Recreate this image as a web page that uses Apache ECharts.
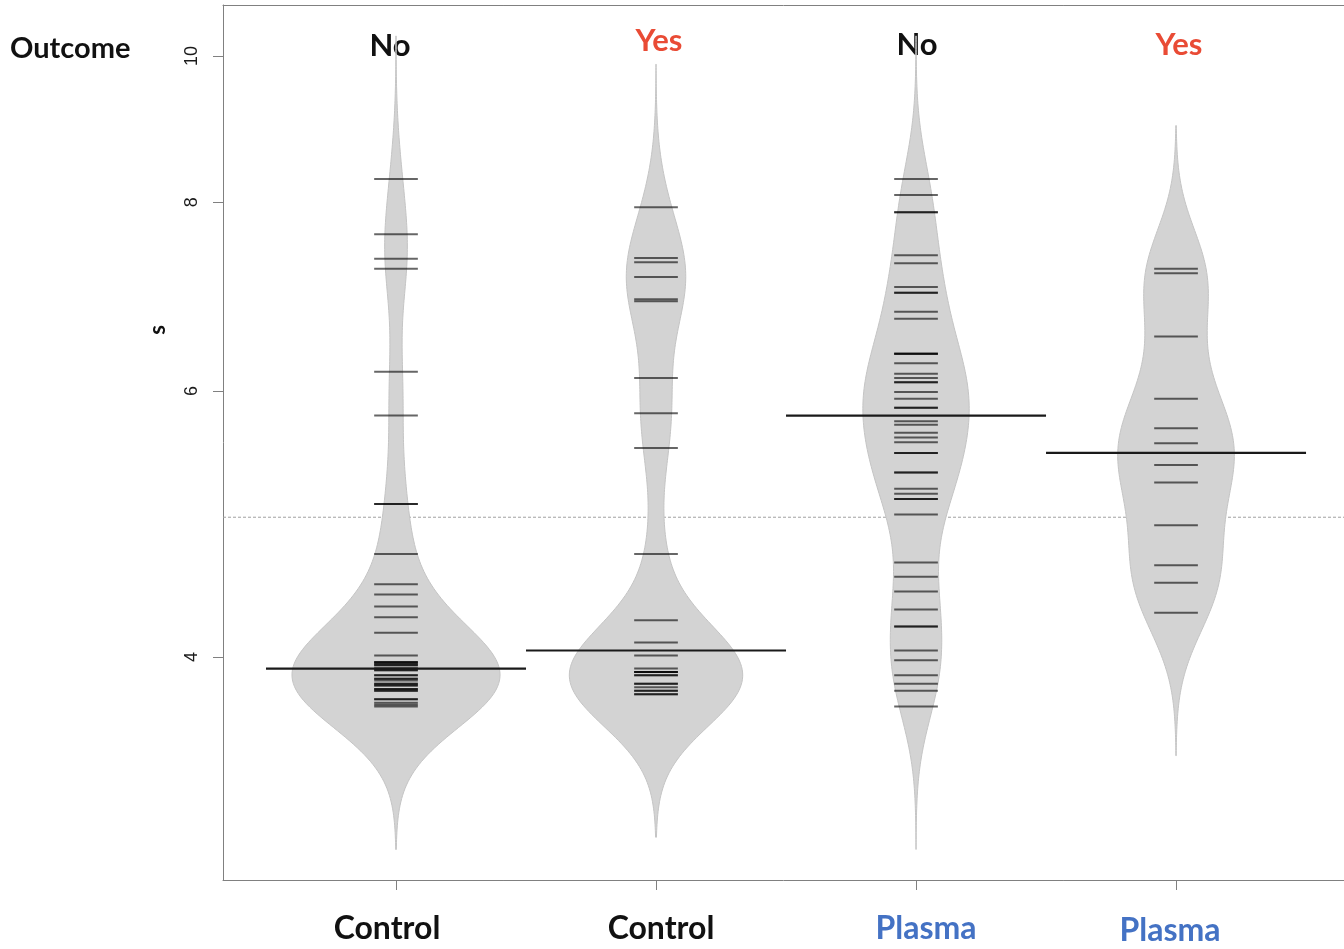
<!DOCTYPE html>
<html>
<head>
<meta charset="utf-8">
<script src="https://cdn.jsdelivr.net/npm/echarts@6/dist/echarts.min.js"></script>
<style>
  html, body { margin: 0; padding: 0; background: #fff; }
  #chart { width: 1344px; height: 949px; }
</style>
</head>
<body>
<div id="chart"></div>
<script>
// groups in plot order
var groups = ['Control', 'Control', 'Plasma', 'Plasma']
var outcomes = ['No', 'Yes', 'No', 'Yes']

var controlNo = [8.29, 7.62, 7.34, 7.23, 6.18, 5.78, 5.05, 5.05, 4.68, 4.47, 4.40, 4.32, 4.25, 4.15,
  4.01, 3.97, 3.97, 3.96, 3.96, 3.95, 3.95, 3.93, 3.93, 3.92, 3.92, 3.89, 3.89, 3.87, 3.87, 3.86,
  3.84, 3.84, 3.83, 3.83, 3.81, 3.81, 3.80, 3.80, 3.75, 3.75, 3.73, 3.72, 3.71]
var controlYes = [7.94, 7.35, 7.30, 7.14, 6.90, 6.88, 6.12, 5.80, 5.50, 4.68, 4.23, 4.09, 4.01, 3.93,
  3.91, 3.91, 3.91, 3.89, 3.89, 3.84, 3.84, 3.82, 3.80, 3.80, 3.78, 3.78]
var plasmaNo = [8.29, 8.09, 7.88, 7.88, 7.38, 7.29, 7.03, 6.97, 6.97, 6.77, 6.70, 6.35, 6.35, 6.35, 6.26,
  6.16, 6.12, 6.08, 6.08, 5.99, 5.93, 5.85, 5.85, 5.73, 5.70, 5.63, 5.59, 5.55, 5.46, 5.46, 5.30, 5.30,
  5.17, 5.13, 5.09, 5.09, 4.97, 4.62, 4.52, 4.42, 4.30, 4.19, 4.19, 4.04, 3.98, 3.89, 3.84, 3.80, 3.71]
var plasmaYes = [7.23, 7.18, 6.52, 5.93, 5.67, 5.54, 5.36, 5.22, 4.89, 4.60, 4.48, 4.28]

var groupMeans = [3.93, 4.04, 5.78, 5.46]
var overallMean = 4.95
var yTicks = [4, 6, 8, 10]

var values = [controlNo, controlYes, plasmaNo, plasmaYes]
var bw = 0.0727 // kernel bandwidth on the log scale, shared by all beans
var xMin = 0.3346
var xMax = 4.646

function density (pts) {
  var logs = pts.map(Math.log)
  var lo = Math.min.apply(null, logs) - 3 * bw
  var hi = Math.max.apply(null, logs) + 3 * bw
  var out = []
  for (var i = 0; i <= 240; i++) {
    var y = lo + (hi - lo) * i / 240
    var s = 0
    logs.forEach(function (l) {
      var z = (y - l) / bw
      s += Math.exp(-0.5 * z * z)
    })
    out.push([y, s / (logs.length * bw * Math.sqrt(2 * Math.PI))])
  }
  return out
}

var beans = values.map(density)
var maxD = 0
beans.forEach(function (b) {
  b.forEach(function (p) { if (p[1] > maxD) maxD = p[1] })
})

var stripeData = []
values.forEach(function (arr, g) {
  arr.forEach(function (v) { stripeData.push([g + 1, Math.log(v)]) })
})

function hLine (x0, x1, y, api, style) {
  var a = api.coord([x0, y])
  var b = api.coord([x1, y])
  return { type: 'line', shape: { x1: a[0], y1: a[1], x2: b[0], y2: b[1] }, style: style }
}

var labelFont = { fontSize: 32, fontWeight: 'bold', fontFamily: 'Lato' }

var myChart = echarts.init(document.getElementById('chart'))
var option = {
  animation: false,
  grid: {
    left: 223,
    top: 5,
    width: 1121,
    height: 875
  },
  xAxis: [{
    type: 'value',
    min: xMin,
    max: xMax,
    splitLine: { show: false },
    axisLine: { show: true, lineStyle: { color: '#808080' } },
    axisTick: { show: true, length: 10, customValues: [1, 2, 3, 4], lineStyle: { color: '#808080' } },
    axisLabel: {
      customValues: [1, 2, 3, 4],
      margin: 33,
      formatter: function (v) {
        return '{g' + v + '|' + groups[v - 1] + '}'
      },
      rich: {
        g1: Object.assign({ color: '#111', padding: [0, 18, 0, 0] }, labelFont),
        g2: Object.assign({ color: '#111', padding: [0, 0, 0, 10] }, labelFont),
        g3: Object.assign({ color: '#4472C4', padding: [0, 0, 0, 20] }, labelFont),
        g4: Object.assign({ color: '#4472C4', padding: [2, 12, 0, 0] }, labelFont)
      }
    }
  }, {
    // top edge of the box
    type: 'value',
    position: 'top',
    min: xMin,
    max: xMax,
    splitLine: { show: false },
    axisLine: { show: true, lineStyle: { color: '#808080' } },
    axisTick: { show: false },
    axisLabel: { show: false }
  }],
  yAxis: {
    type: 'value',
    min: 1.0464,
    max: 2.3802,
    splitLine: { show: false },
    axisLine: { show: true, lineStyle: { color: '#808080' } },
    axisTick: { show: true, length: 10, customValues: yTicks.map(Math.log), lineStyle: { color: '#808080' } },
    axisLabel: {
      customValues: yTicks.map(Math.log),
      rotate: 90,
      margin: 22,
      color: '#1a1a1a',
      fontSize: 18,
      fontFamily: 'Liberation Sans',
      formatter: function (v) { return Math.round(Math.exp(v)) }
    }
  },
  graphic: [
    { type: 'text', x: 10, y: 49, style: { text: 'Outcome', fill: '#111', font: 'bold 29px Lato', verticalAlign: 'middle' } },
    { type: 'text', x: 390, y: 46, style: { text: outcomes[0], fill: '#111', font: 'bold 31px Lato', align: 'center', verticalAlign: 'middle' } },
    { type: 'text', x: 659, y: 41, style: { text: outcomes[1], fill: '#E94B35', font: 'bold 31px Lato', align: 'center', verticalAlign: 'middle' } },
    { type: 'text', x: 917, y: 45, style: { text: outcomes[2], fill: '#111', font: 'bold 31px Lato', align: 'center', verticalAlign: 'middle' } },
    { type: 'text', x: 1179, y: 45, style: { text: outcomes[3], fill: '#E94B35', font: 'bold 31px Lato', align: 'center', verticalAlign: 'middle' } },
    { type: 'text', x: 158, y: 330, rotation: Math.PI / 2, style: { text: 's', fill: '#111', font: 'bold 22px Lato', align: 'center', verticalAlign: 'middle' } }
  ],
  series: [
    {
      // overall mean, drawn under the beans
      type: 'custom',
      z: 1,
      data: [[1, Math.log(overallMean)]],
      renderItem: function (params, api) {
        return hLine(xMin, xMax, api.value(1), api, { stroke: '#a0a0a0', lineWidth: 1, lineDash: [3, 2] })
      }
    },
    {
      type: 'custom',
      z: 2,
      data: groupMeans.map(function (m, g) { return [g, Math.log(m)] }),
      renderItem: function (params, api) {
        var g = api.value(0)
        var b = beans[g]
        var pts = []
        b.forEach(function (p) { pts.push(api.coord([g + 1 + p[1] / maxD * 0.4, p[0]])) })
        for (var i = b.length - 1; i >= 0; i--) {
          pts.push(api.coord([g + 1 - b[i][1] / maxD * 0.4, b[i][0]]))
        }
        return { type: 'polygon', shape: { points: pts }, style: { fill: '#d3d3d3', stroke: '#c4c4c4', lineWidth: 1 } }
      }
    },
    {
      type: 'custom',
      z: 3,
      data: stripeData,
      renderItem: function (params, api) {
        var x = api.value(0)
        return hLine(x - 0.084, x + 0.084, api.value(1), api, { stroke: 'rgba(0,0,0,0.6)', lineWidth: 2 })
      }
    },
    {
      type: 'custom',
      z: 4,
      data: groupMeans.map(function (m, g) { return [g + 1, Math.log(m)] }),
      renderItem: function (params, api) {
        var x = api.value(0)
        return hLine(x - 0.5, x + 0.5, api.value(1), api, { stroke: '#1a1a1a', lineWidth: 2.2 })
      }
    }
  ]
}
myChart.setOption(option)
</script>
</body>
</html>
